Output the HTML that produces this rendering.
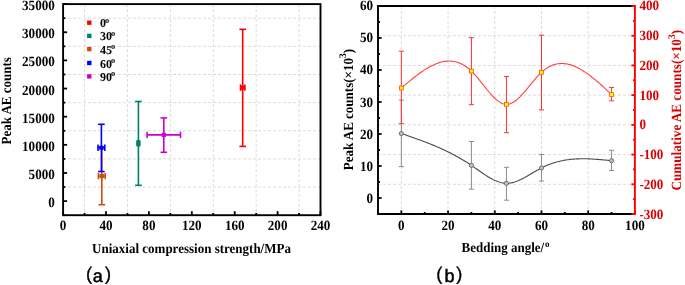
<!DOCTYPE html>
<html><head><meta charset="utf-8"><style>
html,body{margin:0;padding:0;background:#fff;}
body{width:685px;height:285px;overflow:hidden;}
svg{display:block;will-change:transform;}
.g{stroke:#dcdcdc;stroke-width:1;stroke-dasharray:3 2;}
.t{stroke:#000;stroke-width:1.8;}
text{font-family:"Liberation Serif", serif;text-rendering:geometricPrecision;}
.ty{font-size:13.1px;font-weight:bold;}
.ti{font-size:13px;font-weight:bold;}
.lg{font-size:12px;font-weight:bold;}
.deg{font-size:8.3px;}
.degt{font-size:9px;}
.sup{font-size:9.5px;}
.lab{font-family:"Liberation Sans",sans-serif;font-size:18.3px;stroke:#000;stroke-width:0.35px;}
.lab2{font-family:"Liberation Sans",sans-serif;font-size:18px;stroke:#000;stroke-width:0.5px;}
</style></head><body>
<svg width="685" height="285" viewBox="0 0 685 285">
<line x1="84.55" y1="4.10" x2="84.55" y2="215.20" class="g"/>
<line x1="127.45" y1="4.10" x2="127.45" y2="215.20" class="g"/>
<line x1="170.35" y1="4.10" x2="170.35" y2="215.20" class="g"/>
<line x1="213.25" y1="4.10" x2="213.25" y2="215.20" class="g"/>
<line x1="256.15" y1="4.10" x2="256.15" y2="215.20" class="g"/>
<line x1="299.05" y1="4.10" x2="299.05" y2="215.20" class="g"/>
<line x1="63.10" y1="187.05" x2="320.50" y2="187.05" class="g"/>
<line x1="63.10" y1="158.91" x2="320.50" y2="158.91" class="g"/>
<line x1="63.10" y1="130.76" x2="320.50" y2="130.76" class="g"/>
<line x1="63.10" y1="102.61" x2="320.50" y2="102.61" class="g"/>
<line x1="63.10" y1="74.47" x2="320.50" y2="74.47" class="g"/>
<line x1="63.10" y1="46.32" x2="320.50" y2="46.32" class="g"/>
<line x1="63.10" y1="18.17" x2="320.50" y2="18.17" class="g"/>
<line x1="63.10" y1="215.20" x2="63.10" y2="211.20" class="t"/>
<line x1="106.00" y1="215.20" x2="106.00" y2="211.20" class="t"/>
<line x1="148.90" y1="215.20" x2="148.90" y2="211.20" class="t"/>
<line x1="191.80" y1="215.20" x2="191.80" y2="211.20" class="t"/>
<line x1="234.70" y1="215.20" x2="234.70" y2="211.20" class="t"/>
<line x1="277.60" y1="215.20" x2="277.60" y2="211.20" class="t"/>
<line x1="320.50" y1="215.20" x2="320.50" y2="211.20" class="t"/>
<line x1="84.55" y1="215.20" x2="84.55" y2="213.00" class="t"/>
<line x1="127.45" y1="215.20" x2="127.45" y2="213.00" class="t"/>
<line x1="170.35" y1="215.20" x2="170.35" y2="213.00" class="t"/>
<line x1="213.25" y1="215.20" x2="213.25" y2="213.00" class="t"/>
<line x1="256.15" y1="215.20" x2="256.15" y2="213.00" class="t"/>
<line x1="299.05" y1="215.20" x2="299.05" y2="213.00" class="t"/>
<line x1="63.10" y1="201.13" x2="67.10" y2="201.13" class="t"/>
<line x1="63.10" y1="172.98" x2="67.10" y2="172.98" class="t"/>
<line x1="63.10" y1="144.83" x2="67.10" y2="144.83" class="t"/>
<line x1="63.10" y1="116.69" x2="67.10" y2="116.69" class="t"/>
<line x1="63.10" y1="88.54" x2="67.10" y2="88.54" class="t"/>
<line x1="63.10" y1="60.39" x2="67.10" y2="60.39" class="t"/>
<line x1="63.10" y1="32.25" x2="67.10" y2="32.25" class="t"/>
<line x1="63.10" y1="4.10" x2="67.10" y2="4.10" class="t"/>
<line x1="63.10" y1="215.20" x2="65.30" y2="215.20" class="t"/>
<line x1="63.10" y1="187.05" x2="65.30" y2="187.05" class="t"/>
<line x1="63.10" y1="158.91" x2="65.30" y2="158.91" class="t"/>
<line x1="63.10" y1="130.76" x2="65.30" y2="130.76" class="t"/>
<line x1="63.10" y1="102.61" x2="65.30" y2="102.61" class="t"/>
<line x1="63.10" y1="74.47" x2="65.30" y2="74.47" class="t"/>
<line x1="63.10" y1="46.32" x2="65.30" y2="46.32" class="t"/>
<line x1="63.10" y1="18.17" x2="65.30" y2="18.17" class="t"/>
<text transform="translate(54.8,202.33) scale(1,1.08)" class="ty" text-anchor="end" dominant-baseline="central">0</text>
<text transform="translate(54.8,174.18) scale(1,1.08)" class="ty" text-anchor="end" dominant-baseline="central">5000</text>
<text transform="translate(54.8,146.03) scale(1,1.08)" class="ty" text-anchor="end" dominant-baseline="central">10000</text>
<text transform="translate(54.8,117.89) scale(1,1.08)" class="ty" text-anchor="end" dominant-baseline="central">15000</text>
<text transform="translate(54.8,89.74) scale(1,1.08)" class="ty" text-anchor="end" dominant-baseline="central">20000</text>
<text transform="translate(54.8,61.59) scale(1,1.08)" class="ty" text-anchor="end" dominant-baseline="central">25000</text>
<text transform="translate(54.8,33.45) scale(1,1.08)" class="ty" text-anchor="end" dominant-baseline="central">30000</text>
<text transform="translate(54.8,5.30) scale(1,1.08)" class="ty" text-anchor="end" dominant-baseline="central">35000</text>
<text transform="translate(63.10,225.6) scale(1,1.08)" class="ty" text-anchor="middle" dominant-baseline="central">0</text>
<text transform="translate(106.00,225.6) scale(1,1.08)" class="ty" text-anchor="middle" dominant-baseline="central">40</text>
<text transform="translate(148.90,225.6) scale(1,1.08)" class="ty" text-anchor="middle" dominant-baseline="central">80</text>
<text transform="translate(191.80,225.6) scale(1,1.08)" class="ty" text-anchor="middle" dominant-baseline="central">120</text>
<text transform="translate(234.70,225.6) scale(1,1.08)" class="ty" text-anchor="middle" dominant-baseline="central">160</text>
<text transform="translate(277.60,225.6) scale(1,1.08)" class="ty" text-anchor="middle" dominant-baseline="central">200</text>
<text transform="translate(320.50,225.6) scale(1,1.08)" class="ty" text-anchor="middle" dominant-baseline="central">240</text>
<line x1="242.7" y1="29.3" x2="242.7" y2="146.4" stroke="#ff0000" stroke-width="1.6"/><line x1="239.39999999999998" y1="29.3" x2="246.0" y2="29.3" stroke="#ff0000" stroke-width="1.6"/><line x1="239.39999999999998" y1="146.4" x2="246.0" y2="146.4" stroke="#ff0000" stroke-width="1.6"/><line x1="240.5" y1="87.6" x2="244.89999999999998" y2="87.6" stroke="#ff0000" stroke-width="1.6"/><line x1="240.5" y1="84.39999999999999" x2="240.5" y2="90.8" stroke="#ff0000" stroke-width="1.6"/><line x1="244.89999999999998" y1="84.39999999999999" x2="244.89999999999998" y2="90.8" stroke="#ff0000" stroke-width="1.6"/><rect x="240.6" y="85.5" width="4.2" height="4.2" fill="#ff0000"/>
<line x1="138.4" y1="101.5" x2="138.4" y2="185.3" stroke="#00806f" stroke-width="1.6"/><line x1="135.1" y1="101.5" x2="141.70000000000002" y2="101.5" stroke="#00806f" stroke-width="1.6"/><line x1="135.1" y1="185.3" x2="141.70000000000002" y2="185.3" stroke="#00806f" stroke-width="1.6"/><line x1="137.20000000000002" y1="143.3" x2="139.6" y2="143.3" stroke="#00806f" stroke-width="1.6"/><line x1="137.20000000000002" y1="140.10000000000002" x2="137.20000000000002" y2="146.5" stroke="#00806f" stroke-width="1.6"/><line x1="139.6" y1="140.10000000000002" x2="139.6" y2="146.5" stroke="#00806f" stroke-width="1.6"/><rect x="136.3" y="141.20000000000002" width="4.2" height="4.2" fill="#00806f"/>
<line x1="101.8" y1="147.0" x2="101.8" y2="204.7" stroke="#c8500a" stroke-width="1.6"/><line x1="98.5" y1="147.0" x2="105.1" y2="147.0" stroke="#c8500a" stroke-width="1.6"/><line x1="98.5" y1="204.7" x2="105.1" y2="204.7" stroke="#c8500a" stroke-width="1.6"/><line x1="98.39999999999999" y1="176.1" x2="105.2" y2="176.1" stroke="#c8500a" stroke-width="1.6"/><line x1="98.39999999999999" y1="172.9" x2="98.39999999999999" y2="179.29999999999998" stroke="#c8500a" stroke-width="1.6"/><line x1="105.2" y1="172.9" x2="105.2" y2="179.29999999999998" stroke="#c8500a" stroke-width="1.6"/><rect x="99.7" y="174.0" width="4.2" height="4.2" fill="#c8500a"/>
<line x1="101.4" y1="124.3" x2="101.4" y2="171.5" stroke="#0000ff" stroke-width="1.6"/><line x1="98.10000000000001" y1="124.3" x2="104.7" y2="124.3" stroke="#0000ff" stroke-width="1.6"/><line x1="98.10000000000001" y1="171.5" x2="104.7" y2="171.5" stroke="#0000ff" stroke-width="1.6"/><line x1="98.0" y1="147.8" x2="104.80000000000001" y2="147.8" stroke="#0000ff" stroke-width="1.6"/><line x1="98.0" y1="144.60000000000002" x2="98.0" y2="151.0" stroke="#0000ff" stroke-width="1.6"/><line x1="104.80000000000001" y1="144.60000000000002" x2="104.80000000000001" y2="151.0" stroke="#0000ff" stroke-width="1.6"/><rect x="99.30000000000001" y="145.70000000000002" width="4.2" height="4.2" fill="#0000ff"/>
<line x1="163.8" y1="117.9" x2="163.8" y2="152.3" stroke="#cc00cc" stroke-width="1.6"/><line x1="160.5" y1="117.9" x2="167.10000000000002" y2="117.9" stroke="#cc00cc" stroke-width="1.6"/><line x1="160.5" y1="152.3" x2="167.10000000000002" y2="152.3" stroke="#cc00cc" stroke-width="1.6"/><line x1="147.10000000000002" y1="134.9" x2="180.5" y2="134.9" stroke="#cc00cc" stroke-width="1.6"/><line x1="147.10000000000002" y1="131.70000000000002" x2="147.10000000000002" y2="138.1" stroke="#cc00cc" stroke-width="1.6"/><line x1="180.5" y1="131.70000000000002" x2="180.5" y2="138.1" stroke="#cc00cc" stroke-width="1.6"/><rect x="161.70000000000002" y="132.8" width="4.2" height="4.2" fill="#cc00cc"/>
<rect x="63.1" y="4.1" width="257.40" height="211.10" fill="none" stroke="#000" stroke-width="1.9"/>
<rect x="87.1" y="20.5" width="4.4" height="4.4" fill="#ff0000"/>
<text x="100.0" y="23.20" class="lg" dominant-baseline="central">0<tspan class="deg" dx="-1.1" dy="-3.6">o</tspan></text>
<rect x="87.1" y="33.699999999999996" width="4.4" height="4.4" fill="#00806f"/>
<text x="100.0" y="36.40" class="lg" dominant-baseline="central">30<tspan class="deg" dx="-1.1" dy="-3.6">o</tspan></text>
<rect x="87.1" y="46.9" width="4.4" height="4.4" fill="#c8500a"/>
<text x="100.0" y="49.60" class="lg" dominant-baseline="central">45<tspan class="deg" dx="-1.1" dy="-3.6">o</tspan></text>
<rect x="87.1" y="60.8" width="4.4" height="4.4" fill="#0000ff"/>
<text x="100.0" y="63.50" class="lg" dominant-baseline="central">60<tspan class="deg" dx="-1.1" dy="-3.6">o</tspan></text>
<rect x="87.1" y="74.2" width="4.4" height="4.4" fill="#cc00cc"/>
<text x="100.0" y="76.90" class="lg" dominant-baseline="central">90<tspan class="deg" dx="-1.1" dy="-3.6">o</tspan></text>
<text transform="translate(191.5,252.6) scale(1,1.07)" class="ti" text-anchor="middle">Uniaxial compression strength/MPa</text>
<text transform="translate(10.9,100.8) rotate(-90) scale(1,1.07)" class="ti" text-anchor="middle">Peak AE counts</text>
<text x="85.90" y="280.4" class="lab">(</text><text x="97.7" y="281.6" class="lab2" text-anchor="middle">a</text><text x="111.10" y="280.4" class="lab" text-anchor="end">)</text>
<line x1="401.35" y1="6.00" x2="401.35" y2="214.00" class="g"/>
<line x1="448.06" y1="6.00" x2="448.06" y2="214.00" class="g"/>
<line x1="494.77" y1="6.00" x2="494.77" y2="214.00" class="g"/>
<line x1="541.48" y1="6.00" x2="541.48" y2="214.00" class="g"/>
<line x1="588.19" y1="6.00" x2="588.19" y2="214.00" class="g"/>
<line x1="378.00" y1="184.29" x2="634.90" y2="184.29" class="g"/>
<line x1="378.00" y1="154.57" x2="634.90" y2="154.57" class="g"/>
<line x1="378.00" y1="124.86" x2="634.90" y2="124.86" class="g"/>
<line x1="378.00" y1="95.14" x2="634.90" y2="95.14" class="g"/>
<line x1="378.00" y1="65.43" x2="634.90" y2="65.43" class="g"/>
<line x1="378.00" y1="35.71" x2="634.90" y2="35.71" class="g"/>
<line x1="401.35" y1="214.00" x2="401.35" y2="210.40" class="t"/>
<line x1="448.06" y1="214.00" x2="448.06" y2="210.40" class="t"/>
<line x1="494.77" y1="214.00" x2="494.77" y2="210.40" class="t"/>
<line x1="541.48" y1="214.00" x2="541.48" y2="210.40" class="t"/>
<line x1="588.19" y1="214.00" x2="588.19" y2="210.40" class="t"/>
<line x1="634.90" y1="214.00" x2="634.90" y2="210.40" class="t"/>
<line x1="378.00" y1="214.00" x2="378.00" y2="212.00" class="t"/>
<line x1="424.71" y1="214.00" x2="424.71" y2="212.00" class="t"/>
<line x1="471.42" y1="214.00" x2="471.42" y2="212.00" class="t"/>
<line x1="518.13" y1="214.00" x2="518.13" y2="212.00" class="t"/>
<line x1="564.84" y1="214.00" x2="564.84" y2="212.00" class="t"/>
<line x1="611.55" y1="214.00" x2="611.55" y2="212.00" class="t"/>
<line x1="378.00" y1="198.00" x2="381.60" y2="198.00" class="t"/>
<line x1="378.00" y1="166.00" x2="381.60" y2="166.00" class="t"/>
<line x1="378.00" y1="134.00" x2="381.60" y2="134.00" class="t"/>
<line x1="378.00" y1="102.00" x2="381.60" y2="102.00" class="t"/>
<line x1="378.00" y1="70.00" x2="381.60" y2="70.00" class="t"/>
<line x1="378.00" y1="38.00" x2="381.60" y2="38.00" class="t"/>
<line x1="378.00" y1="6.00" x2="381.60" y2="6.00" class="t"/>
<line x1="378.00" y1="214.00" x2="380.00" y2="214.00" class="t"/>
<line x1="378.00" y1="182.00" x2="380.00" y2="182.00" class="t"/>
<line x1="378.00" y1="150.00" x2="380.00" y2="150.00" class="t"/>
<line x1="378.00" y1="118.00" x2="380.00" y2="118.00" class="t"/>
<line x1="378.00" y1="86.00" x2="380.00" y2="86.00" class="t"/>
<line x1="378.00" y1="54.00" x2="380.00" y2="54.00" class="t"/>
<line x1="378.00" y1="22.00" x2="380.00" y2="22.00" class="t"/>
<text transform="translate(401.35,225.0) scale(1,1.08)" class="ty" text-anchor="middle" dominant-baseline="central">0</text>
<text transform="translate(448.06,225.0) scale(1,1.08)" class="ty" text-anchor="middle" dominant-baseline="central">20</text>
<text transform="translate(494.77,225.0) scale(1,1.08)" class="ty" text-anchor="middle" dominant-baseline="central">40</text>
<text transform="translate(541.48,225.0) scale(1,1.08)" class="ty" text-anchor="middle" dominant-baseline="central">60</text>
<text transform="translate(588.19,225.0) scale(1,1.08)" class="ty" text-anchor="middle" dominant-baseline="central">80</text>
<text transform="translate(634.90,225.0) scale(1,1.08)" class="ty" text-anchor="middle" dominant-baseline="central">100</text>
<text transform="translate(373.0,198.09) scale(1,1.08)" class="ty" text-anchor="end" dominant-baseline="central">0</text>
<text transform="translate(373.0,165.95) scale(1,1.08)" class="ty" text-anchor="end" dominant-baseline="central">10</text>
<text transform="translate(373.0,133.81) scale(1,1.08)" class="ty" text-anchor="end" dominant-baseline="central">20</text>
<text transform="translate(373.0,101.67) scale(1,1.08)" class="ty" text-anchor="end" dominant-baseline="central">30</text>
<text transform="translate(373.0,69.53) scale(1,1.08)" class="ty" text-anchor="end" dominant-baseline="central">40</text>
<text transform="translate(373.0,37.39) scale(1,1.08)" class="ty" text-anchor="end" dominant-baseline="central">50</text>
<text transform="translate(373.0,5.25) scale(1,1.08)" class="ty" text-anchor="end" dominant-baseline="central">60</text>
<line x1="401.35" y1="100.1" x2="401.35" y2="166.6" stroke="#8c8c8c" stroke-width="1"/>
<line x1="398.75" y1="100.1" x2="403.95" y2="100.1" stroke="#8c8c8c" stroke-width="1"/>
<line x1="398.75" y1="166.6" x2="403.95" y2="166.6" stroke="#8c8c8c" stroke-width="1"/>
<line x1="471.42" y1="141.5" x2="471.42" y2="189.2" stroke="#8c8c8c" stroke-width="1"/>
<line x1="468.82" y1="141.5" x2="474.02" y2="141.5" stroke="#8c8c8c" stroke-width="1"/>
<line x1="468.82" y1="189.2" x2="474.02" y2="189.2" stroke="#8c8c8c" stroke-width="1"/>
<line x1="506.45" y1="167.3" x2="506.45" y2="200.2" stroke="#8c8c8c" stroke-width="1"/>
<line x1="503.85" y1="167.3" x2="509.05" y2="167.3" stroke="#8c8c8c" stroke-width="1"/>
<line x1="503.85" y1="200.2" x2="509.05" y2="200.2" stroke="#8c8c8c" stroke-width="1"/>
<line x1="541.48" y1="154.5" x2="541.48" y2="181.1" stroke="#8c8c8c" stroke-width="1"/>
<line x1="538.88" y1="154.5" x2="544.08" y2="154.5" stroke="#8c8c8c" stroke-width="1"/>
<line x1="538.88" y1="181.1" x2="544.08" y2="181.1" stroke="#8c8c8c" stroke-width="1"/>
<line x1="611.55" y1="150.3" x2="611.55" y2="170.5" stroke="#8c8c8c" stroke-width="1"/>
<line x1="608.95" y1="150.3" x2="614.15" y2="150.3" stroke="#8c8c8c" stroke-width="1"/>
<line x1="608.95" y1="170.5" x2="614.15" y2="170.5" stroke="#8c8c8c" stroke-width="1"/>
<path d="M401.35,133.50 L402.41,133.86 L403.47,134.23 L404.52,134.59 L405.58,134.96 L406.64,135.32 L407.69,135.69 L408.75,136.06 L409.80,136.42 L410.86,136.79 L411.92,137.16 L412.97,137.54 L414.03,137.91 L415.09,138.29 L416.14,138.67 L417.20,139.05 L418.25,139.43 L419.31,139.81 L420.37,140.20 L421.42,140.59 L422.48,140.99 L423.54,141.39 L424.59,141.79 L425.65,142.19 L426.70,142.60 L427.76,143.01 L428.82,143.43 L429.87,143.85 L430.93,144.27 L431.99,144.70 L433.04,145.13 L434.10,145.57 L435.15,146.01 L436.21,146.46 L437.27,146.91 L438.32,147.37 L439.38,147.84 L440.44,148.31 L441.49,148.78 L442.55,149.27 L443.60,149.75 L444.66,150.25 L445.72,150.75 L446.77,151.26 L447.83,151.77 L448.89,152.29 L449.94,152.82 L451.00,153.36 L452.05,153.90 L453.11,154.46 L454.17,155.02 L455.22,155.58 L456.28,156.16 L457.34,156.74 L458.39,157.34 L459.45,157.94 L460.50,158.55 L461.56,159.16 L462.62,159.79 L463.67,160.43 L464.73,161.08 L465.78,161.73 L466.84,162.40 L467.90,163.07 L468.95,163.76 L470.01,164.46 L471.07,165.16 L472.12,165.88 L473.18,166.61 L474.23,167.34 L475.29,168.08 L476.35,168.82 L477.40,169.56 L478.46,170.31 L479.52,171.05 L480.57,171.79 L481.63,172.52 L482.68,173.24 L483.74,173.96 L484.80,174.66 L485.85,175.35 L486.91,176.02 L487.97,176.68 L489.02,177.31 L490.08,177.93 L491.13,178.52 L492.19,179.09 L493.25,179.63 L494.30,180.14 L495.36,180.62 L496.42,181.06 L497.47,181.47 L498.53,181.85 L499.58,182.19 L500.64,182.48 L501.70,182.73 L502.75,182.94 L503.81,183.11 L504.87,183.22 L505.92,183.29 L506.98,183.30 L508.03,183.26 L509.09,183.17 L510.15,183.04 L511.20,182.86 L512.26,182.63 L513.32,182.37 L514.37,182.06 L515.43,181.72 L516.48,181.35 L517.54,180.94 L518.60,180.50 L519.65,180.04 L520.71,179.55 L521.77,179.03 L522.82,178.50 L523.88,177.94 L524.93,177.37 L525.99,176.79 L527.05,176.19 L528.10,175.58 L529.16,174.96 L530.22,174.34 L531.27,173.71 L532.33,173.08 L533.38,172.46 L534.44,171.83 L535.50,171.21 L536.55,170.60 L537.61,170.00 L538.67,169.40 L539.72,168.83 L540.78,168.26 L541.83,167.72 L542.89,167.20 L543.95,166.69 L545.00,166.20 L546.06,165.74 L547.12,165.29 L548.17,164.85 L549.23,164.44 L550.28,164.04 L551.34,163.66 L552.40,163.30 L553.45,162.95 L554.51,162.62 L555.56,162.31 L556.62,162.01 L557.68,161.73 L558.73,161.46 L559.79,161.21 L560.85,160.97 L561.90,160.74 L562.96,160.53 L564.01,160.33 L565.07,160.15 L566.13,159.98 L567.18,159.82 L568.24,159.67 L569.30,159.54 L570.35,159.42 L571.41,159.31 L572.46,159.21 L573.52,159.12 L574.58,159.04 L575.63,158.97 L576.69,158.91 L577.75,158.87 L578.80,158.83 L579.86,158.80 L580.91,158.78 L581.97,158.77 L583.03,158.76 L584.08,158.77 L585.14,158.78 L586.20,158.80 L587.25,158.82 L588.31,158.86 L589.36,158.90 L590.42,158.94 L591.48,158.99 L592.53,159.05 L593.59,159.11 L594.65,159.18 L595.70,159.25 L596.76,159.33 L597.81,159.41 L598.87,159.49 L599.93,159.58 L600.98,159.67 L602.04,159.77 L603.10,159.86 L604.15,159.96 L605.21,160.06 L606.26,160.17 L607.32,160.27 L608.38,160.38 L609.43,160.49 L610.49,160.59 L611.55,160.70" fill="none" stroke="#4a4a4a" stroke-width="1.1"/>
<circle cx="401.35" cy="133.5" r="2.1" fill="#c0c0c0" stroke="#666" stroke-width="0.9"/>
<circle cx="471.42" cy="165.4" r="2.1" fill="#c0c0c0" stroke="#666" stroke-width="0.9"/>
<circle cx="506.45" cy="183.3" r="2.1" fill="#c0c0c0" stroke="#666" stroke-width="0.9"/>
<circle cx="541.48" cy="167.9" r="2.1" fill="#c0c0c0" stroke="#666" stroke-width="0.9"/>
<circle cx="611.55" cy="160.7" r="2.1" fill="#c0c0c0" stroke="#666" stroke-width="0.9"/>
<line x1="401.35" y1="51.2" x2="401.35" y2="123.7" stroke="#ff3030" stroke-width="1"/>
<line x1="398.75" y1="51.2" x2="403.95" y2="51.2" stroke="#ff3030" stroke-width="1"/>
<line x1="398.75" y1="123.7" x2="403.95" y2="123.7" stroke="#ff3030" stroke-width="1"/>
<line x1="471.42" y1="37.7" x2="471.42" y2="104.7" stroke="#ff3030" stroke-width="1"/>
<line x1="468.82" y1="37.7" x2="474.02" y2="37.7" stroke="#ff3030" stroke-width="1"/>
<line x1="468.82" y1="104.7" x2="474.02" y2="104.7" stroke="#ff3030" stroke-width="1"/>
<line x1="506.45" y1="76.6" x2="506.45" y2="132.7" stroke="#ff3030" stroke-width="1"/>
<line x1="503.85" y1="76.6" x2="509.05" y2="76.6" stroke="#ff3030" stroke-width="1"/>
<line x1="503.85" y1="132.7" x2="509.05" y2="132.7" stroke="#ff3030" stroke-width="1"/>
<line x1="541.48" y1="35.2" x2="541.48" y2="109.9" stroke="#ff3030" stroke-width="1"/>
<line x1="538.88" y1="35.2" x2="544.08" y2="35.2" stroke="#ff3030" stroke-width="1"/>
<line x1="538.88" y1="109.9" x2="544.08" y2="109.9" stroke="#ff3030" stroke-width="1"/>
<line x1="611.55" y1="87.4" x2="611.55" y2="100.8" stroke="#ff3030" stroke-width="1"/>
<line x1="608.95" y1="87.4" x2="614.15" y2="87.4" stroke="#ff3030" stroke-width="1"/>
<line x1="608.95" y1="100.8" x2="614.15" y2="100.8" stroke="#ff3030" stroke-width="1"/>
<path d="M401.35,88.00 L402.41,87.11 L403.47,86.22 L404.52,85.33 L405.58,84.44 L406.64,83.56 L407.69,82.68 L408.75,81.80 L409.80,80.93 L410.86,80.07 L411.92,79.22 L412.97,78.38 L414.03,77.54 L415.09,76.72 L416.14,75.90 L417.20,75.10 L418.25,74.31 L419.31,73.54 L420.37,72.78 L421.42,72.04 L422.48,71.31 L423.54,70.60 L424.59,69.91 L425.65,69.24 L426.70,68.58 L427.76,67.95 L428.82,67.34 L429.87,66.76 L430.93,66.19 L431.99,65.65 L433.04,65.14 L434.10,64.65 L435.15,64.19 L436.21,63.76 L437.27,63.35 L438.32,62.98 L439.38,62.63 L440.44,62.32 L441.49,62.04 L442.55,61.79 L443.60,61.58 L444.66,61.40 L445.72,61.25 L446.77,61.15 L447.83,61.08 L448.89,61.05 L449.94,61.05 L451.00,61.10 L452.05,61.19 L453.11,61.32 L454.17,61.49 L455.22,61.71 L456.28,61.97 L457.34,62.28 L458.39,62.63 L459.45,63.03 L460.50,63.47 L461.56,63.97 L462.62,64.51 L463.67,65.11 L464.73,65.76 L465.78,66.46 L466.84,67.21 L467.90,68.01 L468.95,68.87 L470.01,69.79 L471.07,70.76 L472.12,71.79 L473.18,72.88 L474.23,74.01 L475.29,75.19 L476.35,76.40 L477.40,77.65 L478.46,78.92 L479.52,80.22 L480.57,81.54 L481.63,82.86 L482.68,84.19 L483.74,85.53 L484.80,86.86 L485.85,88.18 L486.91,89.48 L487.97,90.77 L489.02,92.02 L490.08,93.25 L491.13,94.45 L492.19,95.60 L493.25,96.70 L494.30,97.75 L495.36,98.75 L496.42,99.68 L497.47,100.55 L498.53,101.34 L499.58,102.05 L500.64,102.68 L501.70,103.22 L502.75,103.66 L503.81,104.01 L504.87,104.25 L505.92,104.38 L506.98,104.39 L508.03,104.29 L509.09,104.08 L510.15,103.76 L511.20,103.35 L512.26,102.84 L513.32,102.24 L514.37,101.56 L515.43,100.79 L516.48,99.96 L517.54,99.06 L518.60,98.10 L519.65,97.08 L520.71,96.00 L521.77,94.88 L522.82,93.73 L523.88,92.53 L524.93,91.31 L525.99,90.06 L527.05,88.79 L528.10,87.51 L529.16,86.21 L530.22,84.92 L531.27,83.63 L532.33,82.34 L533.38,81.07 L534.44,79.81 L535.50,78.58 L536.55,77.38 L537.61,76.21 L538.67,75.08 L539.72,73.99 L540.78,72.96 L541.83,71.98 L542.89,71.06 L543.95,70.20 L545.00,69.39 L546.06,68.64 L547.12,67.94 L548.17,67.30 L549.23,66.72 L550.28,66.18 L551.34,65.70 L552.40,65.26 L553.45,64.88 L554.51,64.55 L555.56,64.26 L556.62,64.02 L557.68,63.83 L558.73,63.68 L559.79,63.58 L560.85,63.52 L561.90,63.51 L562.96,63.53 L564.01,63.60 L565.07,63.70 L566.13,63.85 L567.18,64.03 L568.24,64.25 L569.30,64.51 L570.35,64.80 L571.41,65.13 L572.46,65.49 L573.52,65.89 L574.58,66.31 L575.63,66.77 L576.69,67.26 L577.75,67.78 L578.80,68.32 L579.86,68.89 L580.91,69.49 L581.97,70.12 L583.03,70.77 L584.08,71.45 L585.14,72.14 L586.20,72.86 L587.25,73.60 L588.31,74.37 L589.36,75.15 L590.42,75.95 L591.48,76.77 L592.53,77.60 L593.59,78.45 L594.65,79.32 L595.70,80.20 L596.76,81.09 L597.81,82.00 L598.87,82.91 L599.93,83.84 L600.98,84.78 L602.04,85.73 L603.10,86.68 L604.15,87.64 L605.21,88.61 L606.26,89.58 L607.32,90.56 L608.38,91.54 L609.43,92.53 L610.49,93.51 L611.55,94.50" fill="none" stroke="#ff4040" stroke-width="1.1"/>
<rect x="399.45" y="86.1" width="3.8" height="3.8" fill="#ffff00" stroke="#ff5000" stroke-width="0.8"/>
<rect x="469.52" y="69.19999999999999" width="3.8" height="3.8" fill="#ffff00" stroke="#ff5000" stroke-width="0.8"/>
<rect x="504.55" y="102.5" width="3.8" height="3.8" fill="#ffff00" stroke="#ff5000" stroke-width="0.8"/>
<rect x="539.58" y="70.39999999999999" width="3.8" height="3.8" fill="#ffff00" stroke="#ff5000" stroke-width="0.8"/>
<rect x="609.65" y="92.6" width="3.8" height="3.8" fill="#ffff00" stroke="#ff5000" stroke-width="0.8"/>
<path d="M634.90,6.0 L378.0,6.0 L378.0,214.0 L634.90,214.0" fill="none" stroke="#000" stroke-width="1.9"/>
<line x1="634.90" y1="214.00" x2="631.40" y2="214.00" stroke="#ff0000" stroke-width="1.9"/>
<line x1="634.90" y1="184.29" x2="631.40" y2="184.29" stroke="#ff0000" stroke-width="1.9"/>
<line x1="634.90" y1="154.57" x2="631.40" y2="154.57" stroke="#ff0000" stroke-width="1.9"/>
<line x1="634.90" y1="124.86" x2="631.40" y2="124.86" stroke="#ff0000" stroke-width="1.9"/>
<line x1="634.90" y1="95.14" x2="631.40" y2="95.14" stroke="#ff0000" stroke-width="1.9"/>
<line x1="634.90" y1="65.43" x2="631.40" y2="65.43" stroke="#ff0000" stroke-width="1.9"/>
<line x1="634.90" y1="35.71" x2="631.40" y2="35.71" stroke="#ff0000" stroke-width="1.9"/>
<line x1="634.90" y1="6.00" x2="631.40" y2="6.00" stroke="#ff0000" stroke-width="1.9"/>
<line x1="634.90" y1="199.14" x2="632.90" y2="199.14" stroke="#ff0000" stroke-width="1.9"/>
<line x1="634.90" y1="169.43" x2="632.90" y2="169.43" stroke="#ff0000" stroke-width="1.9"/>
<line x1="634.90" y1="139.71" x2="632.90" y2="139.71" stroke="#ff0000" stroke-width="1.9"/>
<line x1="634.90" y1="110.00" x2="632.90" y2="110.00" stroke="#ff0000" stroke-width="1.9"/>
<line x1="634.90" y1="80.29" x2="632.90" y2="80.29" stroke="#ff0000" stroke-width="1.9"/>
<line x1="634.90" y1="50.57" x2="632.90" y2="50.57" stroke="#ff0000" stroke-width="1.9"/>
<line x1="634.90" y1="20.86" x2="632.90" y2="20.86" stroke="#ff0000" stroke-width="1.9"/>
<line x1="634.90" y1="5.05" x2="634.90" y2="214.95" stroke="#ff0000" stroke-width="1.9"/>
<text transform="translate(639.4,214.05) scale(1,1.08)" class="ty" fill="#d80000" dominant-baseline="central">-300</text>
<text transform="translate(639.4,184.22) scale(1,1.08)" class="ty" fill="#d80000" dominant-baseline="central">-200</text>
<text transform="translate(639.4,154.39) scale(1,1.08)" class="ty" fill="#d80000" dominant-baseline="central">-100</text>
<text transform="translate(639.4,124.56) scale(1,1.08)" class="ty" fill="#d80000" dominant-baseline="central">0</text>
<text transform="translate(639.4,94.74) scale(1,1.08)" class="ty" fill="#d80000" dominant-baseline="central">100</text>
<text transform="translate(639.4,64.91) scale(1,1.08)" class="ty" fill="#d80000" dominant-baseline="central">200</text>
<text transform="translate(639.4,35.08) scale(1,1.08)" class="ty" fill="#d80000" dominant-baseline="central">300</text>
<text transform="translate(639.4,5.25) scale(1,1.08)" class="ty" fill="#d80000" dominant-baseline="central">400</text>
<text transform="translate(505.5,251.8) scale(1,1.07)" class="ti" text-anchor="middle">Bedding angle/<tspan class="degt" dx="0.8" dy="-4.3">o</tspan></text>
<text transform="translate(352.6,109.6) rotate(-90) scale(1,1.07)" class="ti" text-anchor="middle">Peak AE counts(×10<tspan class="sup" dy="-6.2">3</tspan><tspan dy="6.2">)</tspan></text>
<text transform="translate(681.4,110.2) rotate(-90) scale(1,1.07)" class="ti" style="font-size:13.15px" fill="#d80000" text-anchor="middle">Cumulative AE counts(×10<tspan class="sup" dy="-6.2">3</tspan><tspan dy="6.2">)</tspan></text>
<text x="436.30" y="280.4" class="lab">(</text><text x="449.55" y="281.6" class="lab2" text-anchor="middle">b</text><text x="462.30" y="280.4" class="lab" text-anchor="end">)</text>
</svg>
</body></html>
